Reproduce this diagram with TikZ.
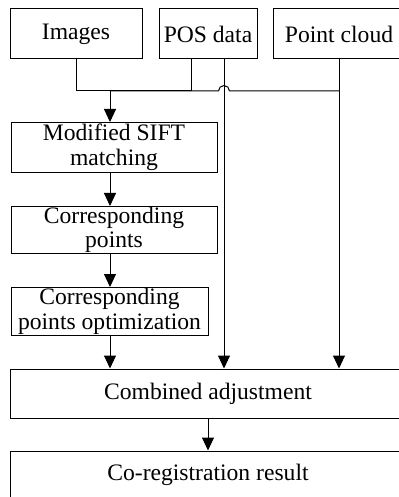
\documentclass[tikz,border=0pt]{standalone}
\usepackage{fontspec}
\setmainfont{Liberation Serif}
\usetikzlibrary{arrows.meta,calc}

\begin{document}
\begin{tikzpicture}[x=0.5pt,y=-0.5pt,line width=0.5pt,
  font=\fontsize{11.8}{12.3}\selectfont,
  box/.style={draw,inner sep=0pt,align=center},
  arr/.style={-{Triangle[length=6.5pt,width=6pt]}}]
  \useasboundingbox (0,0) rectangle (399,497);
  \clip (0,0) rectangle (399,497);

  % input data
  \node[box,minimum width=66pt,minimum height=25pt] (img) at (76,34) {Images};
  \node[box,minimum width=49pt,minimum height=25pt] (pos) at (208,34) {POS data};
  \node[box,minimum width=66pt,minimum height=25pt] (pc) at (339,34) {Point cloud};

  % matching chain
  \node[box,minimum width=103pt,minimum height=25pt] (sift) at (114,147.5) {Modified SIFT\\matching};
  \node[box,minimum width=103pt,minimum height=23.5pt] (corr) at (114,230) {Corresponding\\points};
  \node[box,minimum width=98.5pt,minimum height=24pt] (opt) at (109.5,311.5) {Corresponding\\points optimization};

  % adjustment and result
  \node[box,minimum width=198pt,minimum height=24.5pt] (comb) at (208,393.5) {Combined adjustment};
  \node[box,minimum width=198pt,minimum height=24pt] (coreg) at (208,475) {Co-registration result};

  % junction line with jump over the POS line
  \coordinate (jn) at (110,91);
  \coordinate (posl) at ([xshift=-8.5pt]pos.south);
  \coordinate (posr) at ([xshift=8pt]pos.south);
  \coordinate (jr) at ($(posr |- jn)+(5.5,0)$);
  \draw (img.south) |- (jn);
  \draw (posl) |- (jn);
  \draw (pc.south |- jn) -- (jr) arc[start angle=0,end angle=-180,radius=5.5] -- (jn);

  % arrows
  \draw[arr] (jn) -- (sift.north -| jn);
  \draw[arr] (sift.south -| jn) -- (corr.north -| jn);
  \draw[arr] (corr.south -| jn) -- (opt.north -| jn);
  \draw[arr] (opt.south -| jn) -- (comb.north -| jn);
  \draw[arr] (posr) -- (comb.north -| posr);
  \draw[arr] (pc.south) -- (comb.north -| pc.south);
  \draw[arr] (comb) -- (coreg);
\end{tikzpicture}
\end{document}
